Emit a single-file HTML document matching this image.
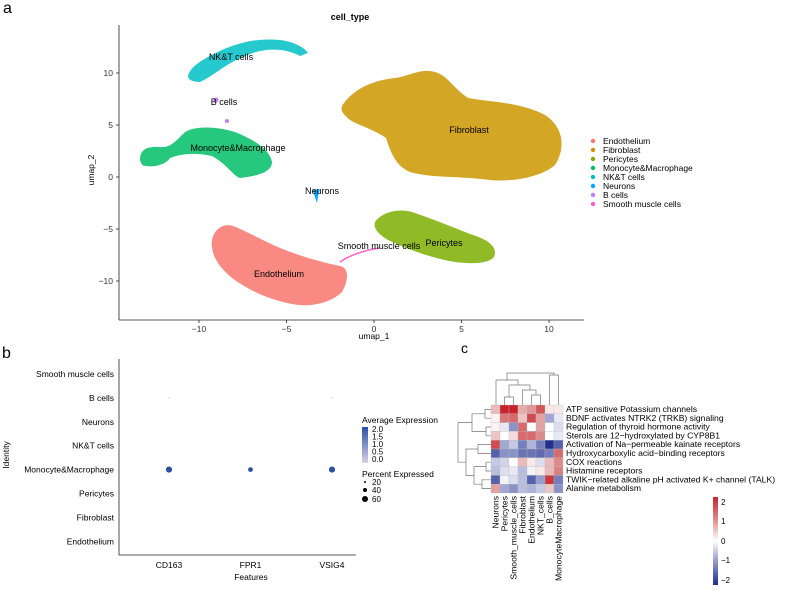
<!DOCTYPE html>
<html><head><meta charset="utf-8"><style>
body{margin:0;background:#fff}
svg{display:block;font-family:"Liberation Sans",Arial,sans-serif}
</style></head><body>
<svg id="fig" width="787" height="591" viewBox="0 0 787 591" xmlns="http://www.w3.org/2000/svg">
<!-- Panel a -->
<g>
<text x="3" y="13" font-size="16">a</text>
<text x="350" y="20" font-size="9" font-weight="bold" text-anchor="middle">cell_type</text>
<g fill-opacity="0.85">
<path d="M344,103 C355,88 375,80 395,78 C410,76 420,68 435,72 C448,76 450,85 468,98 C490,102 520,102 545,115 C565,128 565,150 555,165 C540,178 510,182 490,180 C460,176 430,178 410,172 C395,166 390,150 386,138 C375,130 360,126 350,120 C340,112 340,108 344,103 Z" fill="#CD9600"/>
<path d="M188,76 C190,66 205,58 222,50 C240,42 258,38 280,40 C295,42 305,48 308,53 L300,56 C285,48 265,47 245,56 C225,64 215,75 200,82 C193,82 188,80 188,76 Z" fill="#00BFC4"/>
<path d="M140,160 C140,150 146,146 160,147 C170,148 175,142 185,132 C195,126 215,126 235,132 C255,140 270,150 272,162 C272,172 258,176 240,178 C232,175 228,165 212,156 C195,152 180,154 170,158 C165,166 150,168 142,165 Z" fill="#00BE67"/>
<path d="M212,247 C210,232 222,222 233,226 C248,232 262,240 280,248 C300,256 320,262 340,266 C350,268 348,282 342,292 C332,302 312,308 292,304 C270,300 248,290 232,278 C220,268 213,258 212,247 Z" fill="#F8766D"/>
<path d="M375,222 C382,212 398,208 412,212 C430,218 450,226 470,234 C490,240 498,248 494,257 C488,264 472,264 455,262 C430,258 405,248 388,240 C378,234 373,228 375,222 Z" fill="#7CAE00"/>
</g>
<path d="M340,262 C350,255 365,250 380,248" stroke="#FF61CC" stroke-width="1.5" fill="none"/>
<path d="M313,190 L320,189 L318,196 L317,203 L315,197 Z" fill="#00A9FF"/>
<circle cx="216" cy="100" r="2.5" fill="#C77CFF"/>
<circle cx="227" cy="121" r="2" fill="#C77CFF"/>
<g font-size="9" text-anchor="middle">
<text x="231" y="60">NK&amp;T cells</text>
<text x="224" y="105">B cells</text>
<text x="238" y="151">Monocyte&amp;Macrophage</text>
<text x="469" y="133">Fibroblast</text>
<text x="322" y="194">Neurons</text>
<text x="379" y="249">Smooth muscle cells</text>
<text x="444" y="246">Pericytes</text>
<text x="279" y="277">Endothelium</text>
</g>
<g id="umapAxes"></g>
<text x="374" y="339" font-size="8.5" text-anchor="middle">umap_1</text>
<text x="94" y="170" font-size="8.5" text-anchor="middle" transform="rotate(-90 94 170)">umap_2</text>
<g id="umapLegend"></g>
</g>
<!-- Panel b -->
<g id="dotPanel">
<text x="2" y="358" font-size="16">b</text>
<text x="251" y="580" font-size="8.5" text-anchor="middle">Features</text>
<text x="9" y="455" font-size="8.5" text-anchor="middle" transform="rotate(-90 9 455)">Identity</text>
<text x="362" y="423" font-size="8.5">Average Expression</text>
<defs><linearGradient id="bg" x1="0" y1="1" x2="0" y2="0"><stop offset="0" stop-color="#d6d3e8"/><stop offset="1" stop-color="#2c4ea6"/></linearGradient>
<linearGradient id="hg" x1="0" y1="1" x2="0" y2="0"><stop offset="0" stop-color="#1f2f8a"/><stop offset="0.25" stop-color="#8a92c8"/><stop offset="0.5" stop-color="#ffffff"/><stop offset="0.75" stop-color="#dc8a8a"/><stop offset="1" stop-color="#c8232b"/></linearGradient></defs>
<rect x="362" y="427" width="6" height="36" fill="url(#bg)"/>
<g font-size="8"><text x="372" y="432">2.0</text><text x="372" y="439.5">1.5</text><text x="372" y="447">1.0</text><text x="372" y="454.5">0.5</text><text x="372" y="462">0.0</text></g>
<text x="362" y="477" font-size="8.5">Percent Expressed</text>
<g><circle cx="365" cy="482" r="1"/><circle cx="365" cy="490" r="2"/><circle cx="365" cy="499" r="3"/>
<g font-size="8"><text x="372" y="485">20</text><text x="372" y="493">40</text><text x="372" y="502">60</text></g></g>
</g>
<!-- Panel c -->
<g id="heatPanel">
<text x="461" y="353" font-size="14">c</text>
<rect x="713" y="497" width="5" height="88" fill="url(#hg)"/>
<g font-size="8"><text x="721" y="505">2</text><text x="721" y="524">1</text><text x="721" y="544">0</text><text x="721" y="563">−1</text><text x="721" y="583">−2</text></g>
<g stroke="#777" stroke-width="0.7" fill="none">
<path d="M496,405 V380 H518 V385"/><path d="M507,380 V373 H554 V375"/>
<path d="M504.5,405 V397 H513.5 V405"/><path d="M509,397 V385 H530 V390"/>
<path d="M522.5,405 V390 H536 V395"/><path d="M531.5,405 V395 H540.5 V405"/>
<path d="M549.5,405 V375 H558.5 V405"/>
</g>
<g stroke="#777" stroke-width="0.7" fill="none">
<path d="M491,409.4 H485 V418.2 H491"/><path d="M491,427 H486 V435.8 H491"/>
<path d="M485,413.8 H472 V431.4 H486"/>
<path d="M491,444.6 H478 V453.4 H491"/><path d="M491,462.2 H486 V471 H491"/>
<path d="M491,479.8 H482 V488.6 H491"/><path d="M486,466.6 H474 V484.2 H482"/>
<path d="M478,449 H466 V475.4 H474"/>
<path d="M472,422.6 H458 V462.2 H466"/>
</g>
<g id="heatCells"></g>
</g>
</svg>
<script>
// UMAP axes
const umapXTicks=[-10,-5,0,5,10];
const umapYTicks=[10,5,0,-5,-10];
const legendNames=["Endothelium","Fibroblast","Pericytes","Monocyte&Macrophage","NK&T cells","Neurons","B cells","Smooth muscle cells"];
const legendColors=["#F8766D","#CD9600","#7CAE00","#00BE67","#00BFC4","#00A9FF","#C77CFF","#FF61CC"];
// Dot plot
const dotRows=["Smooth muscle cells","B cells","Neurons","NK&T cells","Monocyte&Macrophage","Pericytes","Fibroblast","Endothelium"];
const dotFeatures=["CD163","FPR1","VSIG4"];
const dotPct=[[0,0,0],[1,0,1],[0,0,0],[0,0,0],[55,30,55],[0,0,0],[0,0,0],[0,0,0]];
const dotAvg=[[0,0,0],[0,0,0],[0,0,0],[0,0,0],[2,2,2],[0,0,0],[0,0,0],[0,0,0]];
// Heatmap
const heatRows=["ATP sensitive Potassium channels","BDNF activates NTRK2 (TRKB) signaling","Regulation of thyroid hormone activity","Sterols are 12−hydroxylated by CYP8B1","Activation of Na−permeable kainate receptors","Hydroxycarboxylic acid−binding receptors","COX reactions","Histamine receptors","TWIK−related alkaline pH activated K+ channel (TALK)","Alanine metabolism"];
const heatCols=["Neurons","Pericytes","Smooth_muscle_cells","Fibroblast","Endothelium","NKT_cells","B_cells","MonocyteMacrophage"];
const heatVals=[
[0.6,2.0,2.0,0.7,0.9,1.5,0.2,0.2],
[0.1,1.2,1.3,0.5,1.6,0.8,-0.8,-0.2],
[0.1,-0.2,-1.0,1.3,0.0,0.8,0.0,-0.3],
[0.5,0.0,0.3,1.3,1.3,1.0,0.0,-0.2],
[1.6,-0.8,-0.5,-1.2,-0.7,-1.2,-2.0,-1.5],
[-1.5,-1.0,-1.0,-1.3,-1.3,-1.4,-1.2,1.3],
[-0.5,-0.4,0.0,0.6,0.2,-0.3,0.6,1.0],
[-0.6,-0.3,-0.2,-0.6,-0.1,0.2,0.6,1.1],
[-1.5,-0.1,-0.3,-0.6,-1.5,-0.9,1.8,-1.2],
[0.8,-0.8,-1.0,-0.6,-0.7,-0.5,0.5,-1.0]];
const NS="http://www.w3.org/2000/svg";
function mk(tag,attrs,parent){const e=document.createElementNS(NS,tag);for(const k in attrs)e.setAttribute(k,attrs[k]);parent.appendChild(e);return e;}
const ux=u=>374+17.5*u, uy=v=>177-10.4*v;
const ax=document.getElementById('umapAxes');
let l=mk('line',{x1:119,y1:25,x2:119,y2:320,stroke:'#222','stroke-width':0.8},ax);


l=mk('line',{x1:119,y1:320,x2:584,y2:320,stroke:'#222','stroke-width':0.8},ax);


umapXTicks.forEach(t=>{mk('line',{x1:ux(t),y1:320,x2:ux(t),y2:323,stroke:'#222','stroke-width':0.8},ax);
const tx=mk('text',{x:ux(t),y:332,'font-size':8.5,'text-anchor':'middle',fill:'#333'},ax);tx.textContent=String(t).replace('-','−');

});
umapYTicks.forEach(t=>{mk('line',{x1:116,y1:uy(t),x2:119,y2:uy(t),stroke:'#222','stroke-width':0.8},ax);
const tx=mk('text',{x:113,y:uy(t)+3,'font-size':8.5,'text-anchor':'end',fill:'#333'},ax);tx.textContent=String(t).replace('-','−');

});
const lg=document.getElementById('umapLegend');
legendNames.forEach((n,i)=>{const g=mk('g',{},lg);


mk('circle',{cx:593,cy:141+9*i,r:2.2,fill:legendColors[i]},g);
const t=mk('text',{x:603,y:144+9*i,'font-size':8.5},g);t.textContent=n;});
// dot plot
const dp=document.getElementById('dotPanel');
const dx=j=>169+81.5*j, dy=i=>374+23.9*i;
l=mk('line',{x1:119,y1:359,x2:119,y2:555,stroke:'#222','stroke-width':0.8},dp);


l=mk('line',{x1:119,y1:555,x2:356,y2:555,stroke:'#222','stroke-width':0.8},dp);


dotRows.forEach((r,i)=>{const t=mk('text',{x:114,y:dy(i)+3,'font-size':8.5,'text-anchor':'end'},dp);t.textContent=r;

});
dotFeatures.forEach((f,j)=>{const t=mk('text',{x:dx(j),y:568,'font-size':8.5,'text-anchor':'middle'},dp);t.textContent=f;

});
function blueScale(v){const a=Math.max(0,Math.min(1,v/2));const c0=[214,211,232],c1=[44,78,166];return `rgb(${c0.map((c,k)=>Math.round(c+(c1[k]-c)*a)).join(',')})`;}
dotRows.forEach((r,i)=>dotFeatures.forEach((f,j)=>{const p=dotPct[i][j];if(p<=0)return;
const c=mk('circle',{cx:dx(j),cy:dy(i),r:0.4+Math.sqrt(p/60)*2.8,fill:blueScale(dotAvg[i][j])},dp);

}));
// heatmap
const hc=document.getElementById('heatCells');
const hx=j=>491+9*j, hy=i=>405+8.8*i;
function heatColor(v){const a=Math.max(-2,Math.min(2,v))/2;let c0=[255,255,255],c1=a>=0?[200,35,43]:[31,47,138];const t=Math.abs(a);
if(t<0.5){c1=a>=0?[220,138,138]:[138,146,200];return `rgb(${c0.map((c,k)=>Math.round(c+(c1[k]-c)*t*2)).join(',')})`;}
c0=a>=0?[220,138,138]:[138,146,200];return `rgb(${c0.map((c,k)=>Math.round(c+(c1[k]-c)*(t-0.5)*2)).join(',')})`;}
heatVals.forEach((row,i)=>row.forEach((v,j)=>{const r=mk('rect',{x:hx(j),y:hy(i),width:9,height:8.8,fill:heatColor(v),stroke:'#bbb','stroke-width':0.3},hc);

}));
heatRows.forEach((n,i)=>{const t=mk('text',{x:566,y:hy(i)+7,'font-size':8.6},hc);t.textContent=n;

});
heatCols.forEach((n,j)=>{const x=hx(j)+7.5;const t=mk('text',{x:x,y:496,'font-size':8.6,'text-anchor':'end',transform:`rotate(-90 ${x} 496)`},hc);t.textContent=n;

});
</script>
</body></html>
